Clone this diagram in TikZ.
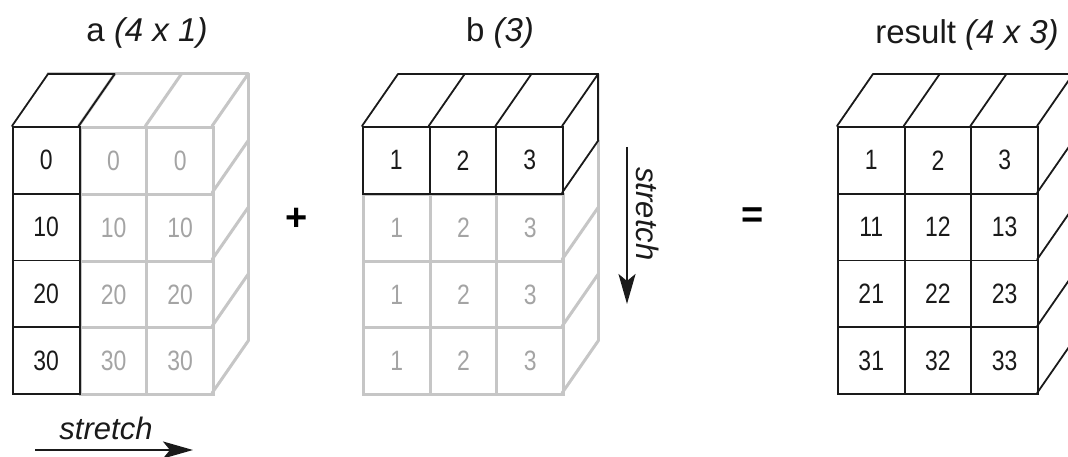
\documentclass[tikz,border=0pt]{standalone}
\usepackage{fontspec}
\setmainfont{Liberation Sans}
\newfontfamily\myNarrow[FakeStretch=0.82]{Liberation Sans}
\usetikzlibrary{arrows.meta}
\definecolor{lgray}{HTML}{C6C6C6}
\definecolor{tgray}{HTML}{A4A4A4}
\definecolor{ink}{HTML}{1A1A1A}
\newcommand\myNumFont{\myNarrow\fontsize{28}{28}\selectfont}
\newcommand\myTitleFont{\fontsize{33}{33}\selectfont}
\newcommand\myStretchFont{\fontsize{31}{31}\selectfont\itshape}
\newcommand\myOpFont{\fontsize{38}{38}\selectfont\bfseries}
\tikzset{
  blk/.style={draw=ink, line width=1.8pt, line join=round, line cap=round},
  gry/.style={draw=lgray, line width=3pt, line join=round, line cap=round},
  cellb/.style={rectangle, anchor=north west, minimum width=66.7pt, minimum height=66.75pt,
    inner sep=0pt, font=\myNumFont, text=ink, draw=ink, line width=1.8pt},
  cellg/.style={cellb, text=tgray, draw=lgray, line width=3pt},
  ttl/.style={font=\myTitleFont, text=ink, inner sep=0pt},
  op/.style={font=\myOpFont, text=black, inner sep=0pt},
  strtxt/.style={font=\myStretchFont, text=ink, inner sep=0pt},
  arr/.style={draw=ink, line width=2.4pt, -{Stealth[length=30pt,width=17pt,inset=7pt]}}
}
\begin{document}
\begin{tikzpicture}[x=1pt,y=-1pt]
\useasboundingbox (0,0) rectangle (1068,457);
% titles
\node[ttl] (ta) at (147,33) {a \textit{(4 x 1)}};
\node[ttl] (tb) at (500,33) {b \textit{(3)}};
\node[ttl] (tr) at (967,35) {result \textit{(4 x 3)}};

% ================= array a =================
\draw[gry] (48,74) -- (248.1,74) -- (248.1,341);
\foreach \x in {78.7,145.4,212.1} \draw[gry] (\x,126) -- ++(36,-52);
\foreach \y in {192.75,259.5,326.25,393} \draw[gry] (212.1,\y) -- ++(36,-52);
\foreach \r in {1,...,4} {
  \foreach \c in {2,3} {
    \pgfmathtruncatemacro\v{10*(\r-1)}
    \node[cellg] (a-\r-\c) at ({12+66.7*(\c-1)},{126+66.75*(\r-1)}) {\v};
  }
}
\foreach \r in {1,...,4} {
  \pgfmathtruncatemacro\v{10*(\r-1)}
  \node[cellb] (a-\r-1) at (12,{126+66.75*(\r-1)}) {\v};
}
\draw[blk] (12,126) -- (48,74) -- (114.7,74) -- (78.7,126);

% ================= array b =================
\draw[gry] (598.1,140.75) -- (598.1,341);
\foreach \y in {259.5,326.25,393} \draw[gry] (562.1,\y) -- ++(36,-52);
\foreach \r in {2,3,4} {
  \foreach \c in {1,2,3} {
    \node[cellg] (b-\r-\c) at ({362+66.7*(\c-1)},{126+66.75*(\r-1)}) {\c};
  }
}
\foreach \c in {1,2,3} {
  \node[cellb] (b-1-\c) at ({362+66.7*(\c-1)},126) {\c};
}
\draw[blk] (362,126) -- (398,74) -- (598.1,74) -- (562.1,126);
\foreach \x in {428.7,495.4} \draw[blk] (\x,126) -- ++(36,-52);
\draw[blk] (598.1,74) -- (598.1,140.75) -- (562.1,192.75);

% ================= result =================
\foreach \r in {1,...,4} {
  \foreach \c in {1,2,3} {
    \pgfmathtruncatemacro\v{10*(\r-1)+\c}
    \node[cellb] (r-\r-\c) at ({837+66.7*(\c-1)},{126+66.75*(\r-1)}) {\v};
  }
}
\draw[blk] (837,126) -- (873,74) -- (1073.1,74) -- (1073.1,341);
\foreach \x in {903.7,970.4,1037.1} \draw[blk] (\x,126) -- ++(36,-52);
\foreach \y in {192.75,259.5,326.25,393} \draw[blk] (1037.1,\y) -- ++(36,-52);

% operators
\node[op] (plus) at (297,219) {+};
\node[op] (eq) at (753,218) {=};

% stretch arrows
\coordinate (h1) at (35,450);
\coordinate (h2) at (193,450);
\draw[arr] (h1) -- (h2);
\node[strtxt] (hs) at (106,428) {stretch};
\coordinate (v1) at (627,147);
\coordinate (v2) at (627,304);
\draw[arr] (v1) -- (v2);
\node[strtxt, rotate=-90] (vs) at (648,214) {stretch};
\end{tikzpicture}
\end{document}
